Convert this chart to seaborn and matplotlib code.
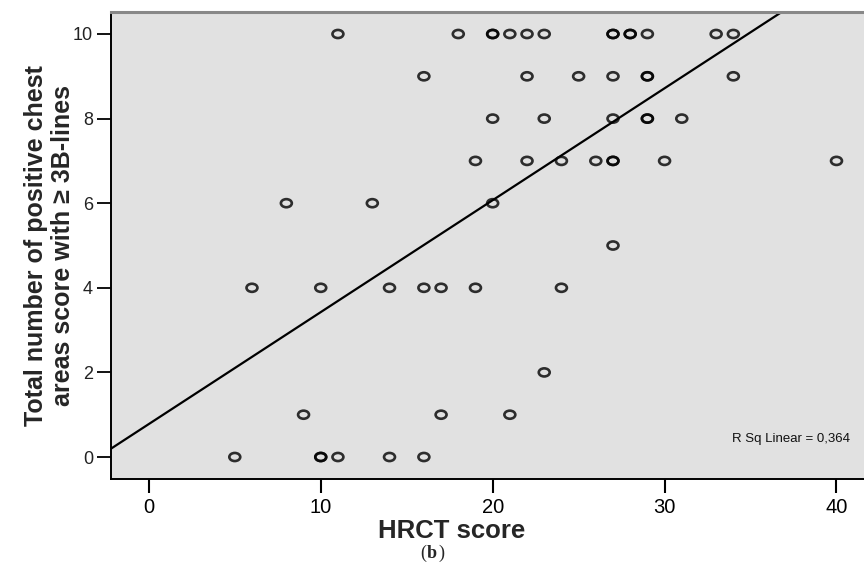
import numpy as np
import matplotlib
matplotlib.use("Agg")
import matplotlib.pyplot as plt
from matplotlib.path import Path
import seaborn as sns

# HRCT score vs number of positive areas
hrct = [11, 18, 20, 20, 21, 22, 23, 27, 27, 28, 28, 29, 33, 34,
        16, 22, 25, 27, 29, 29, 34,
        20, 23, 27, 29, 29, 31,
        19, 22, 24, 26, 27, 27, 30, 40,
        8, 13, 20,
        27,
        6, 10, 14, 16, 17, 19, 24,
        23,
        9, 17, 21,
        5, 10, 10, 11, 14, 16]
areas = [10] * 14 + [9] * 7 + [8] * 6 + [7] * 8 + [6] * 3 + [5] * 1 + \
        [4] * 7 + [2] * 1 + [1] * 3 + [0] * 6

x_ticks = [0, 10, 20, 30, 40]
y_ticks = [0, 2, 4, 6, 8, 10]
rsq_label = "R Sq Linear = 0,364"

sns.set_style("white")
plt.rcParams["font.family"] = ["Liberation Sans", "DejaVu Sans"]

fig = plt.figure(figsize=(8.64, 5.72), dpi=100)
ax = fig.add_axes([111 / 864, 1 - 479 / 572, 1 - 111 / 864, (479 - 12) / 572])
ax.set_facecolor("#e1e1e1")
ax.set_xlim(-2.2, 41.6)
ax.set_ylim(-0.52, 10.52)

# slightly squashed open circle, like the SPSS marker
circ = Path.unit_circle()
ellipse = Path(circ.vertices * np.array([1.0, 0.74]), circ.codes)

sns.regplot(x=hrct, y=areas, ax=ax, ci=None, truncate=False, marker=ellipse,
            scatter_kws=dict(facecolors="none", edgecolors="black", linewidths=1.9, s=62),
            line_kws=dict(color="black", lw=1.6))
ax.set_xlim(-2.2, 41.6)
ax.set_ylim(-0.52, 10.52)

ax.set_xticks(x_ticks)
ax.set_yticks(y_ticks)
ax.tick_params(axis="x", direction="out", length=10, width=1.5, pad=3.5,
               labelsize=14.5, colors="black", bottom=True)
ax.tick_params(axis="y", direction="out", length=10, width=1.3, pad=3,
               labelsize=13, colors="black", left=True, labelcolor="#222222")

for side in ["left", "bottom"]:
    ax.spines[side].set_color("black")
    ax.spines[side].set_linewidth(1.4)
ax.spines["top"].set_color("#888888")
ax.spines["top"].set_linewidth(2.2)
ax.spines["right"].set_visible(False)

ax.set_xlabel("HRCT score", fontsize=18.5, fontweight="bold")
ax.xaxis.set_label_coords((452 - 111) / 753, -0.085)
ax.set_ylabel("Total number of positive chest\nareas score with \u2265 3B-lines",
              fontsize=18, fontweight="bold", linespacing=1.15)
ax.yaxis.set_label_coords(-0.048, 0.5)

ax.text(0.825, 0.085, rsq_label, transform=ax.transAxes, fontsize=9.5,
        ha="left", va="center", color="#111111")

fig.text(432 / 864, 1 - 553 / 572, "b", fontsize=13, fontweight="bold",
         family="Liberation Serif", ha="center", va="center")
fig.text(426 / 864, 1 - 553 / 572, "(", fontsize=13,
         family="Liberation Serif", ha="right", va="center")
fig.text(438 / 864, 1 - 553 / 572, ")", fontsize=13,
         family="Liberation Serif", ha="left", va="center")

fig.savefig("out.png", dpi=100)
